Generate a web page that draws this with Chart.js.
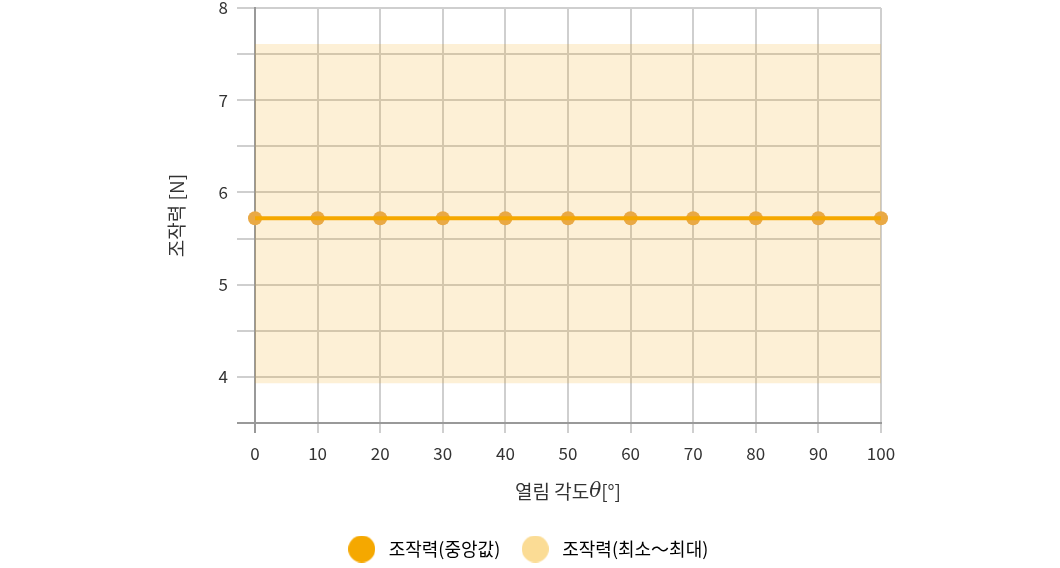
<!DOCTYPE html>
<html><head><meta charset="utf-8">
<script src="https://cdn.jsdelivr.net/npm/chart.js@4"></script>
<style>html,body{margin:0;padding:0;background:#fff}#wrap{width:1060px;height:568px}</style>
</head><body><div id="wrap"><canvas id="c" width="1060" height="568"></canvas></div>
<script>
const angles = [0, 10, 20, 30, 40, 50, 60, 70, 80, 90, 100];
const medianForce = [5.72, 5.72, 5.72, 5.72, 5.72, 5.72, 5.72, 5.72, 5.72, 5.72, 5.72];
const minForce = [3.93, 3.93, 3.93, 3.93, 3.93, 3.93, 3.93, 3.93, 3.93, 3.93, 3.93];
const maxForce = [7.61, 7.61, 7.61, 7.61, 7.61, 7.61, 7.61, 7.61, 7.61, 7.61, 7.61];
const yLabelTicks = [4, 5, 6, 7, 8];
const legendNames = ['조작력(중앙값)', '조작력(최소～최대)'];
const xTitleParts = ['열림 각도', 'θ', '[°]'];
const yTitle = '조작력 [N]';

const FONT = "'Noto Sans CJK KR', 'Noto Sans', sans-serif";
Chart.defaults.font.family = FONT;
Chart.defaults.color = '#333';

function dot(color, r) {
  const c = document.createElement('canvas');
  c.width = Math.ceil(r * 2); c.height = Math.ceil(r * 2);
  const g = c.getContext('2d');
  g.fillStyle = color; g.beginPath(); g.arc(c.width / 2, c.height / 2, r, 0, Math.PI * 2); g.fill();
  return c;
}
const legendDots = [dot('#f5a800', 13.5), dot('#fbdc95', 13.5)];

const pts = arr => angles.map((a, i) => ({x: a, y: arr[i]}));

const xTitlePlugin = {
  id: 'xTitle',
  afterDraw(chart) {
    const {ctx, chartArea} = chart;
    ctx.save();
    const fonts = ['19px ' + FONT, 'italic 20px "DejaVu Serif", serif', '19px ' + FONT];
    let widths = xTitleParts.map((t, i) => { ctx.font = fonts[i]; return ctx.measureText(t).width; });
    const total = widths.reduce((a, b) => a + b, 0);
    let x = (chartArea.left + chartArea.right) / 2 - total / 2;
    ctx.fillStyle = '#333';
    ctx.textBaseline = 'middle';
    ctx.textAlign = 'left';
    xTitleParts.forEach((t, i) => { ctx.font = fonts[i]; ctx.fillText(t, x, 492); x += widths[i]; });
    ctx.restore();
  }
};

new Chart(document.getElementById('c'), {
  type: 'line',
  data: {
    datasets: [
      {label: 'min', data: pts(minForce), borderWidth: 0, pointRadius: 0, fill: false, order: 3},
      {label: legendNames[1], data: pts(maxForce), borderWidth: 0, pointRadius: 0,
       fill: '-1', backgroundColor: 'rgba(242,161,0,0.16)', order: 2},
      {label: 'pts', data: pts(medianForce), showLine: false, pointRadius: 7, pointHoverRadius: 7,
       pointBackgroundColor: '#e9a945', pointBorderWidth: 0, clip: false, order: 1},
      {label: legendNames[0], data: pts(medianForce), borderColor: '#f5a800', borderWidth: 4,
       pointRadius: 0, fill: false, clip: false, order: 0}
    ]
  },
  options: {
    responsive: false,
    animation: false,
    events: [],
    layout: {padding: {top: 0, bottom: 0, left: 0, right: 8}},
    plugins: {
      tooltip: {enabled: false},
      legend: {
        position: 'bottom',
        onClick: null,
        labels: {
          usePointStyle: true,
          pointStyleWidth: 36,
          padding: 17,
          font: {size: 18},
          color: '#333',
          generateLabels: () => legendNames.map((n, i) => ({
            text: n, pointStyle: legendDots[i], fillStyle: 'transparent',
            strokeStyle: 'transparent', lineWidth: 0, hidden: false, datasetIndex: i === 0 ? 3 : 1
          }))
        }
      }
    },
    scales: {
      x: {
        type: 'linear', min: 0, max: 100,
        ticks: {stepSize: 10, padding: 10, font: {size: 17}, color: '#333'},
        grid: {color: c => (c.tick && c.tick.value === 0) ? '#999' : '#cfcfcf', lineWidth: 2, tickLength: 10},
        border: {color: '#999', width: 2},
        afterFit: s => { s.height = 100; }
      },
      y: {
        min: 3.5, max: 8,
        ticks: {stepSize: 0.5, padding: 9, font: {size: 17}, color: '#333',
                callback: v => yLabelTicks.includes(v) ? String(v) : ''},
        grid: {color: c => (c.tick && c.tick.value === 3.5) ? '#999' : '#cfcfcf', lineWidth: 2, tickLength: 18},
        border: {color: '#999', width: 2},
        title: {display: true, text: yTitle, font: {size: 19}, color: '#333', padding: 165},
        afterFit: s => { s.width = 255; s.paddingTop = 8; s.paddingBottom = 0; }
      },
      yr: {
        position: 'right', display: true, min: 0, max: 1,
        grid: {display: false}, ticks: {display: false}, border: {display: false},
        afterFit: s => { s.width = 171; s.paddingTop = 0; s.paddingBottom = 0; }
      }
    }
  },
  plugins: [xTitlePlugin]
});
</script></body></html>
